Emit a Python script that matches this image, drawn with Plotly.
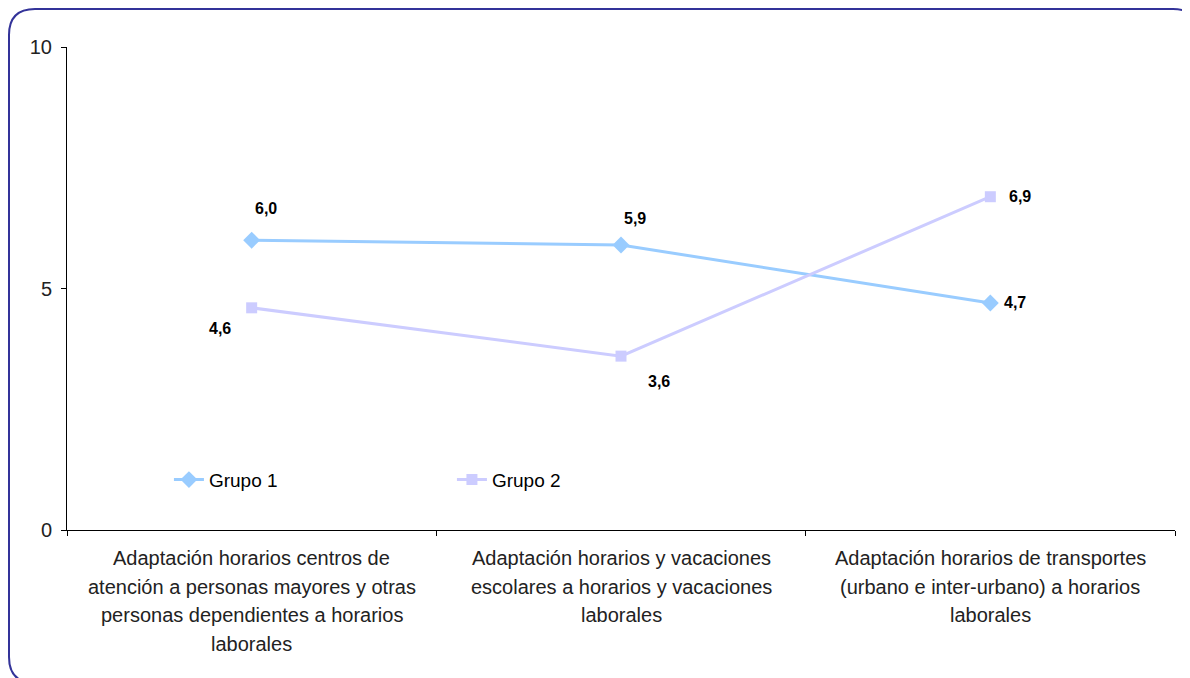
import plotly.graph_objects as go

# Dades
categorias = [
    "Adaptación horarios centros de<br>atención a personas mayores y otras<br>personas dependientes a horarios<br>laborales",
    "Adaptación horarios y vacaciones<br>escolares a horarios y vacaciones<br>laborales",
    "Adaptación horarios de transportes<br>(urbano e inter-urbano) a horarios<br>laborales",
]
grupo1 = [6.0, 5.9, 4.7]
grupo2 = [4.6, 3.6, 6.9]
y_ticks = [0, 5, 10]

# Desplaçaments de les etiquetes (px)
off1 = [(14, 32), (14, 27), (25, 0)]
off2 = [(-32, -21), (38, -25), (30, 0)]

# La pàgina té 8px de marge al body, per això la figura és més petita
W, H = 1182, 670
ml, mr, mt, mb = 59, 15, 39, 148
pw, ph = W - ml - mr, H - mt - mb

FONT = "Arial, Liberation Sans, sans-serif"

fig = go.Figure()
fig.add_trace(go.Scatter(
    x=[0, 1, 2], y=grupo1, mode="lines+markers", name="Grupo 1",
    line=dict(color="#99CCFF", width=3),
    marker=dict(symbol="diamond", size=13, color="#99CCFF")))
fig.add_trace(go.Scatter(
    x=[0, 1, 2], y=grupo2, mode="lines+markers", name="Grupo 2",
    line=dict(color="#CCCCFF", width=3),
    marker=dict(symbol="square", size=11, color="#CCCCFF")))

# Etiquetes de valors
for vals, offs in [(grupo1, off1), (grupo2, off2)]:
    for i, v in enumerate(vals):
        fig.add_annotation(x=i, y=v, text=f"{v:.1f}".replace(".", ","),
                           showarrow=False, xshift=offs[i][0], yshift=offs[i][1],
                           font=dict(family=FONT, size=16, color="black", weight="bold"))

# Etiquetes de categories, línia a línia
for i, cat in enumerate(categorias):
    for j, linia in enumerate(cat.split("<br>")):
        fig.add_annotation(x=i, y=0, xref="x", yref="paper", text=linia, showarrow=False,
                           yanchor="middle", yshift=-28 - 28.5 * j,
                           font=dict(family=FONT, size=20, color="#222222"))

# Vora arrodonida
def px(x):
    return (x - ml) / pw

def py(y):
    return (H - mb - y) / ph

L, T, R, B, r = 1, 1, 1191, 675, 26
path = (f"M {px(L)},{py(T + r)} Q {px(L)},{py(T)} {px(L + r)},{py(T)} "
        f"L {px(R - r)},{py(T)} Q {px(R)},{py(T)} {px(R)},{py(T + r)} "
        f"L {px(R)},{py(B - r)} Q {px(R)},{py(B)} {px(R - r)},{py(B)} "
        f"L {px(L + r)},{py(B)} Q {px(L)},{py(B)} {px(L)},{py(B - r)} Z")
fig.add_shape(type="path", path=path, xref="paper", yref="paper",
              line=dict(color="#333399", width=2))

fig.update_layout(
    width=W, height=H,
    margin=dict(l=ml, r=mr, t=mt, b=mb),
    paper_bgcolor="white", plot_bgcolor="white",
    font=dict(family=FONT, size=16, color="black"),
    showlegend=True,
    legend=dict(orientation="h", x=0.092, y=0.104, xanchor="left", yanchor="middle",
                entrywidth=238, entrywidthmode="pixels",
                font=dict(family=FONT, size=19, color="black"), bgcolor="rgba(0,0,0,0)"),
    xaxis=dict(type="linear", range=[-0.5, 2.5], tickvals=[-0.5, 0.5, 1.5, 2.5],
               showticklabels=False, showline=True, linecolor="black", linewidth=1,
               ticks="outside", ticklen=5, tickcolor="black", showgrid=False, zeroline=False),
    yaxis=dict(range=[0, 10], tickvals=y_ticks, showline=True, linecolor="black", linewidth=1,
               ticks="outside", ticklen=5, tickcolor="black", showgrid=False, zeroline=False,
               ticklabelstandoff=5, tickfont=dict(size=20, color="#222222")),
)

fig.write_html("out.html")
